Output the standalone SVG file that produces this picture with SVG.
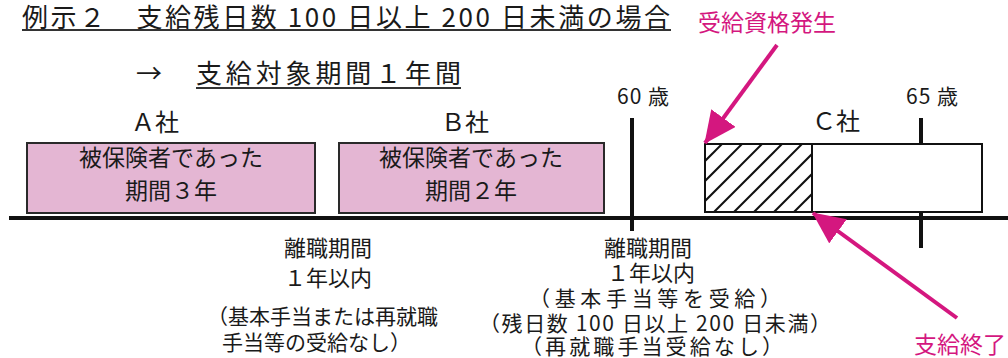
<svg xmlns="http://www.w3.org/2000/svg" width="1008" height="358" viewBox="0 0 1008 358">
<style>
  text { font-family: "Noto Sans CJK JP", "Noto Sans", sans-serif; fill: #1a1a1a; }
  .title { font-size: 26px; }
  .sub { font-size: 26px; }
  .co { font-size: 24px; }
  .age { font-size: 21px; }
  .box { font-size: 23px; }
  .note { font-size: 21px; }
  .mag { fill: #d4177f; font-size: 23px; }
  .pink { fill: #e4b6d3; stroke: #2a2a2a; stroke-width: 2; }
  .wbox { fill: #ffffff; stroke: #111; stroke-width: 2; }
  .hatch { stroke: #111; stroke-width: 2; }
  .axis { stroke: #111; stroke-width: 4; fill: none; }
  .arrow { stroke: #d4177f; stroke-width: 4; fill: none; }
  .ul { stroke: #333; stroke-width: 2; }
</style>
<defs>
  <marker id="ah" markerUnits="userSpaceOnUse" markerWidth="32" markerHeight="30" refX="31" refY="15" orient="auto">
    <path d="M0,0 L32,15 L0,30 z" fill="#d4177f"/>
  </marker>
  <clipPath id="hclip"><rect x="705" y="144" width="107" height="68"/></clipPath>
</defs>

<g id="title">
  <text class="title" x="22" y="27" textLength="648" lengthAdjust="spacing">例示２　支給残日数 100 日以上 200 日未満の場合</text>
  <line class="ul" x1="22" y1="30" x2="671" y2="30"/>
</g>
<g id="subtitle">
  <text class="sub" x="136" y="83">→</text>
  <text class="sub" x="196" y="83" textLength="265" lengthAdjust="spacing">支給対象期間１年間</text>
  <line class="ul" x1="196" y1="88" x2="461" y2="88"/>
</g>

<g id="timeline">
  <line class="axis" x1="9" y1="218" x2="1008" y2="218"/>
  <line class="axis" x1="632" y1="118" x2="632" y2="231"/>
  <line class="axis" x1="921" y1="118" x2="921" y2="248"/>
  <text class="age" x="617" y="104" textLength="52" lengthAdjust="spacing">60 歳</text>
  <text class="age" x="906" y="104" textLength="52" lengthAdjust="spacing">65 歳</text>
</g>

<g id="companyA">
  <text class="co" x="155" y="131" text-anchor="middle">Ａ社</text>
  <rect class="pink" x="27" y="143" width="288" height="70"/>
  <text class="box" x="171" y="166" text-anchor="middle">被保険者であった</text>
  <text class="box" x="171" y="199" text-anchor="middle">期間３年</text>
</g>

<g id="companyB">
  <text class="co" x="465" y="131" text-anchor="middle">Ｂ社</text>
  <rect class="pink" x="339" y="143" width="265" height="70"/>
  <text class="box" x="471" y="166" text-anchor="middle">被保険者であった</text>
  <text class="box" x="471" y="199" text-anchor="middle">期間２年</text>
</g>

<g id="companyC">
  <text class="co" x="836" y="130" text-anchor="middle">Ｃ社</text>
  <rect class="wbox" x="812" y="144" width="170" height="68"/>
  <rect class="wbox" x="705" y="144" width="107" height="68"/>
  <g clip-path="url(#hclip)">
    <line class="hatch" x1="722" y1="144" x2="654" y2="212"/>
    <line class="hatch" x1="742" y1="144" x2="674" y2="212"/>
    <line class="hatch" x1="762" y1="144" x2="694" y2="212"/>
    <line class="hatch" x1="782" y1="144" x2="714" y2="212"/>
    <line class="hatch" x1="802" y1="144" x2="734" y2="212"/>
    <line class="hatch" x1="822" y1="144" x2="754" y2="212"/>
    <line class="hatch" x1="842" y1="144" x2="774" y2="212"/>
    <line class="hatch" x1="862" y1="144" x2="794" y2="212"/>
    <line class="hatch" x1="880" y1="144" x2="812" y2="212"/>
  </g>
  <rect x="705" y="144" width="107" height="68" fill="none" stroke="#111" stroke-width="2"/>
</g>

<g id="gap1">
  <text class="note" x="328" y="256" text-anchor="middle" style="font-size:22px">離職期間</text>
  <text class="note" x="328" y="286" text-anchor="middle" style="font-size:22px">１年以内</text>
  <text class="note" x="207" y="324">（基本手当または再就職</text>
  <text class="note" x="222" y="350">手当等の受給なし）</text>
</g>

<g id="gap2">
  <text class="note" x="648" y="256" text-anchor="middle" style="font-size:22px">離職期間</text>
  <text class="note" x="651" y="281" text-anchor="middle" style="font-size:22px">１年以内</text>
  <text class="note" x="655" y="306" text-anchor="middle" textLength="252" lengthAdjust="spacing">（基本手当等を受給）</text>
  <text class="note" x="655" y="331" text-anchor="middle" textLength="352" lengthAdjust="spacing">（残日数 100 日以上 200 日未満）</text>
  <text class="note" x="652" y="354" text-anchor="middle" textLength="262" lengthAdjust="spacing">（再就職手当受給なし）</text>
</g>

<g id="label-start">
  <text class="mag" x="698" y="31">受給資格発生</text>
</g>
<g id="label-end">
  <text class="mag" x="914" y="353">支給終了</text>
</g>

<g id="connectors">
  <line class="arrow" x1="777" y1="45" x2="705" y2="143" marker-end="url(#ah)"/>
  <line class="arrow" x1="957" y1="318" x2="813" y2="213" marker-end="url(#ah)"/>
</g>
</svg>
